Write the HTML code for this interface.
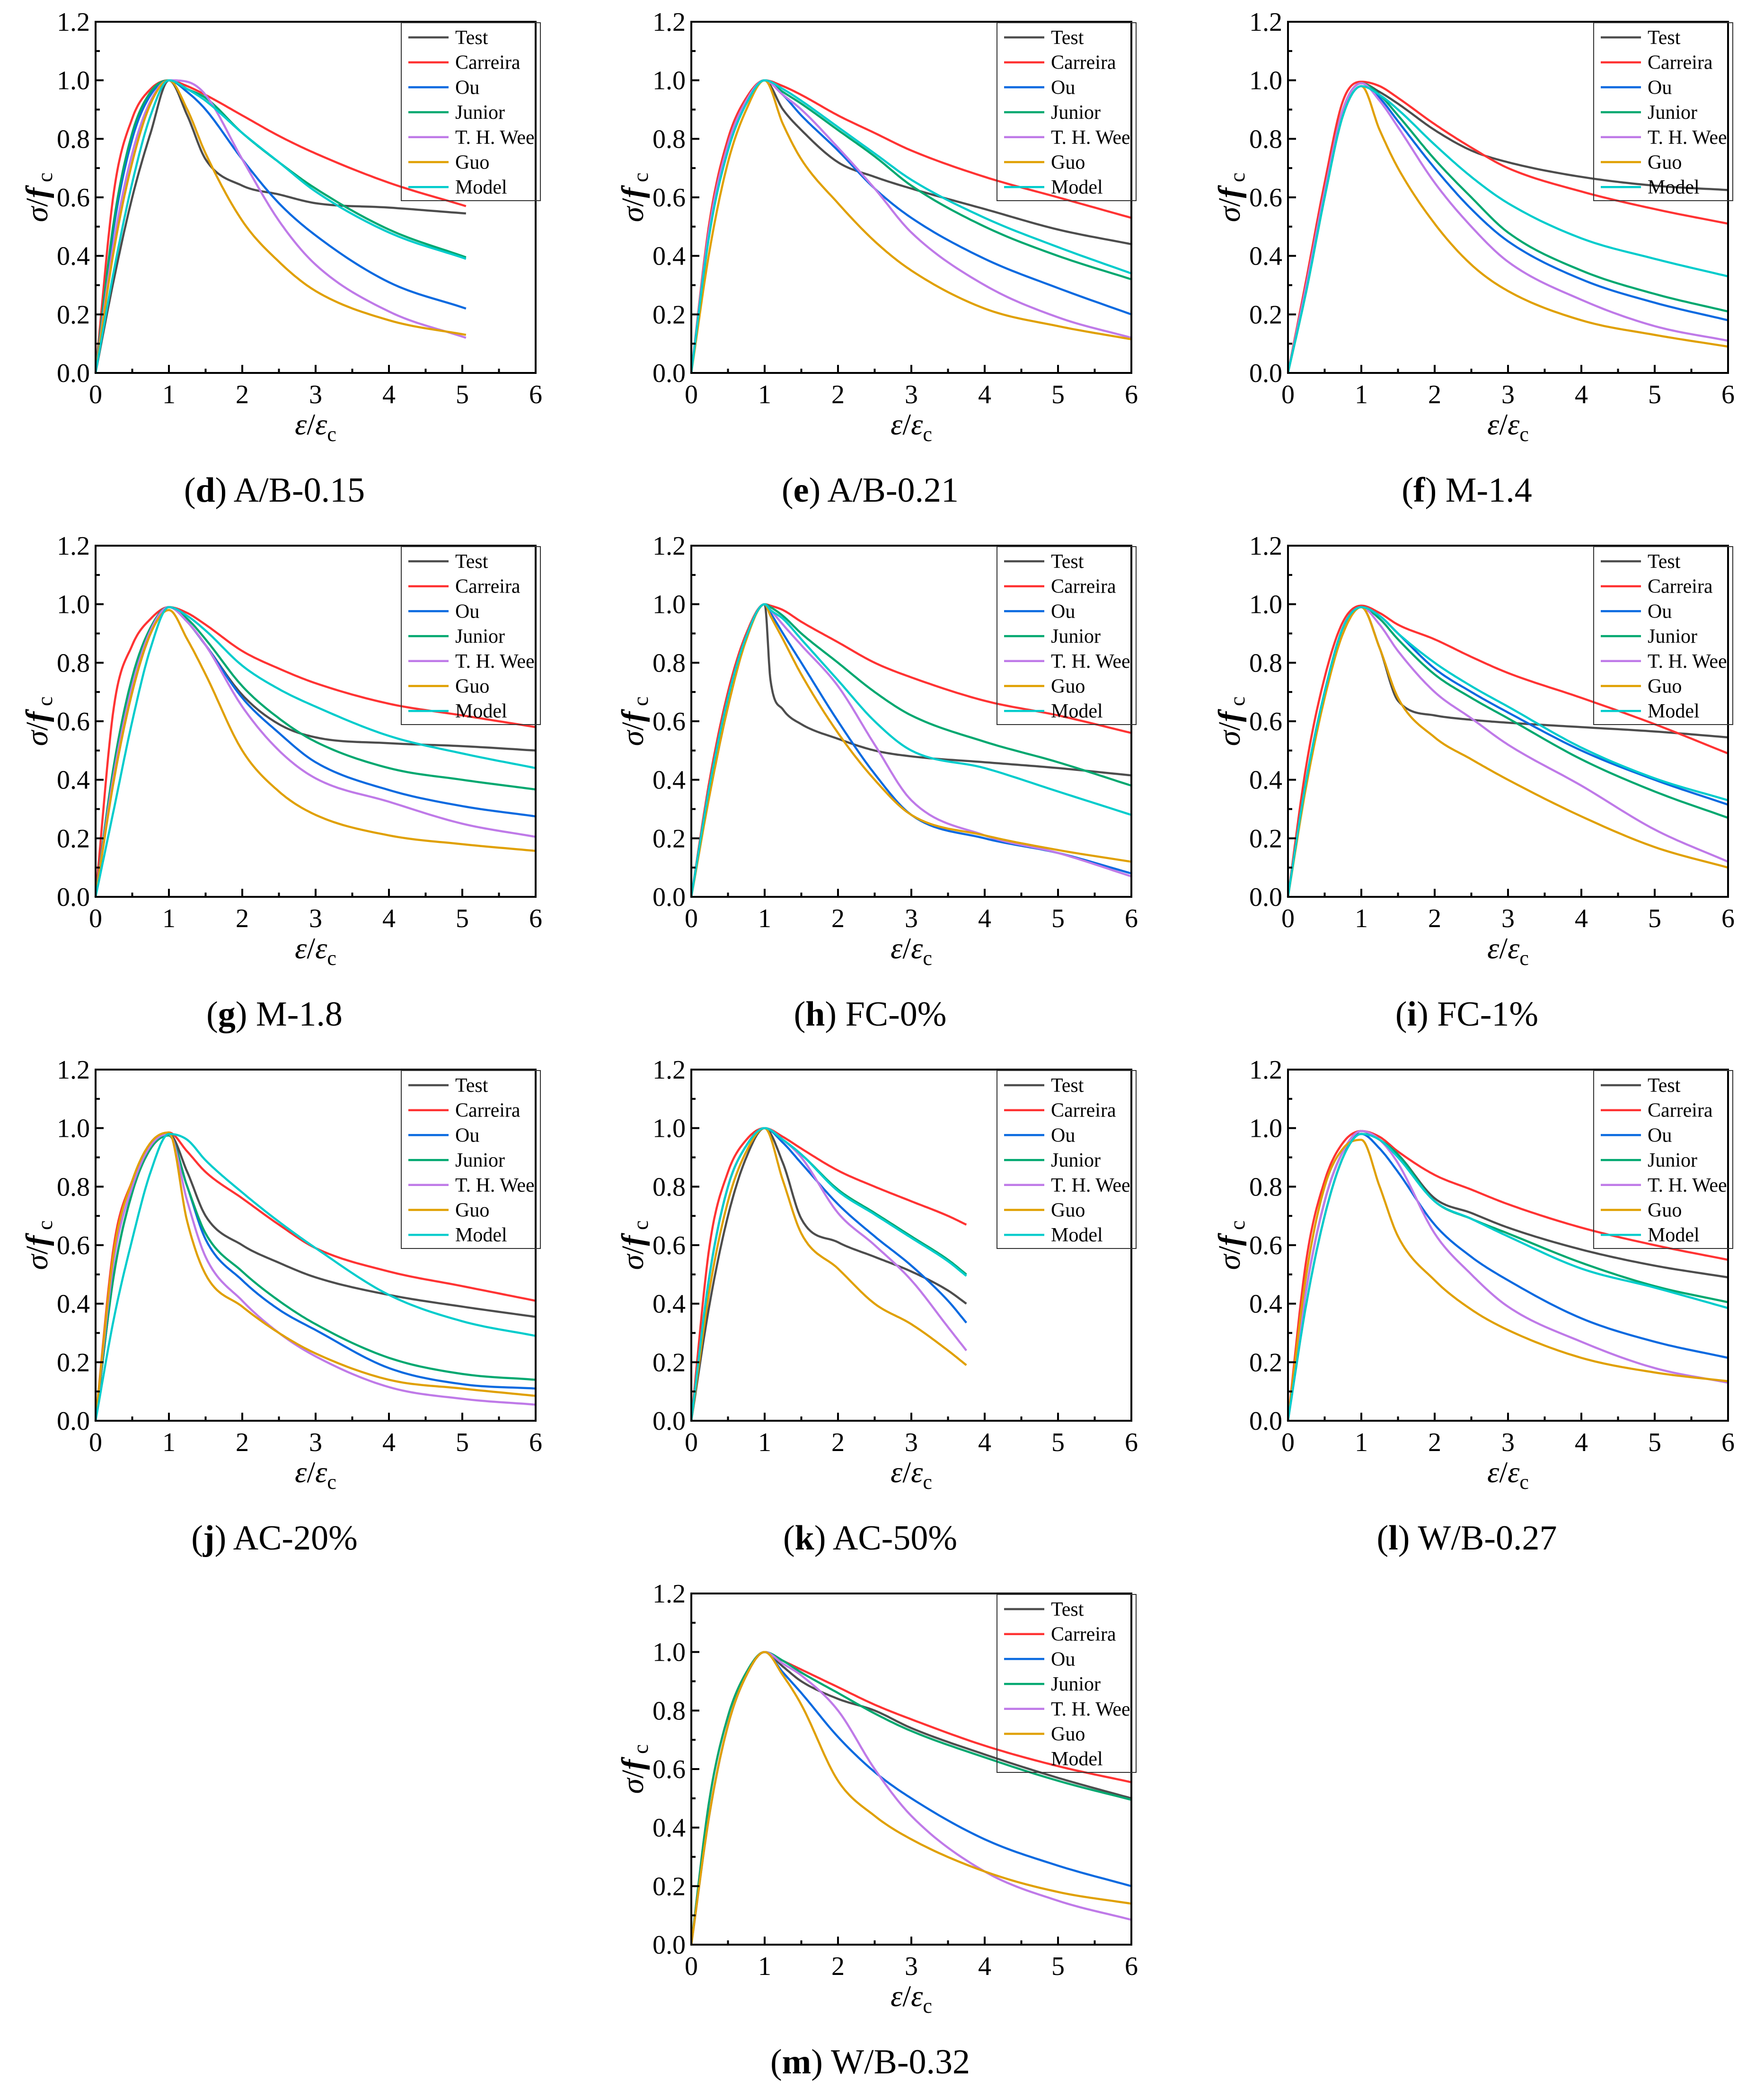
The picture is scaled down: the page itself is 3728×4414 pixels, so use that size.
<!DOCTYPE html>
<html>
<head>
<meta charset="utf-8">
<style>
html,body{margin:0;padding:0;background:#fff;}
svg{display:block;}
svg text{font-family:"Liberation Serif","Times New Roman",serif;}
</style>
</head>
<body>
<svg id="fig" width="3728" height="4414" viewBox="0 0 3728 4414" xmlns="http://www.w3.org/2000/svg" font-family="Liberation Serif, serif">
<rect x="0" y="0" width="3728" height="4414" fill="#fff"/>
</svg>
<script>
const seriesNames = ["Test","Carreira","Ou","Junior","T. H. Wee","Guo","Model"];
const seriesColors = ["#4d4d4d","#ff3333","#0a6ae0","#00a870","#bf7ae8","#e0a000","#00cccc"];
const xTicks = [0,1,2,3,4,5,6];
const yTicks = ["0.0","0.2","0.4","0.6","0.8","1.0","1.2"];
const X13 = [0,.25,.5,.75,1,1.25,1.5,2,2.5,3,4,5,6];

const d_x = [0,.25,.5,.75,1,1.25,1.5,2,2.5,3,4,5.05];
const d_test = [0,.32,.6,.82,1,.88,.73,.64,.61,.58,.565,.545];
const d_carr = [0,.62,.87,.97,1,.98,.95,.88,.81,.75,.65,.57];
const d_ou = [0,.5,.8,.95,1,.96,.9,.73,.58,.47,.31,.22];
const d_jun = [0,.52,.82,.96,1,.97,.94,.82,.72,.63,.49,.395];
const d_wee = [0,.45,.75,.93,1,.995,.95,.73,.52,.37,.21,.12];
const d_guo = [0,.42,.72,.92,1,.9,.75,.52,.38,.28,.18,.13];
const d_mod = [0,.35,.65,.88,1,.97,.93,.82,.72,.62,.48,.39];

const e_test = [0,.48,.77,.93,1,.9,.83,.72,.67,.63,.56,.49,.44];
const e_carr = [0,.52,.8,.94,1,.98,.95,.88,.82,.76,.67,.6,.53];
const e_ou = [0,.5,.78,.93,1,.95,.88,.76,.63,.53,.39,.29,.2];
const e_jun = [0,.5,.78,.93,1,.96,.92,.83,.74,.64,.5,.4,.32];
const e_wee = [0,.5,.78,.93,1,.95,.9,.77,.63,.48,.3,.19,.12];
const e_guo = [0,.42,.72,.9,1,.85,.73,.58,.45,.35,.22,.16,.115];
const e_mod = [0,.48,.76,.92,1,.97,.93,.84,.75,.66,.53,.43,.34];

const f_test = [0,.3,.62,.9,.99,.96,.92,.83,.76,.72,.67,.64,.625];
const f_carr = [0,.32,.65,.93,.995,.98,.94,.85,.77,.7,.62,.56,.51];
const f_ou = [0,.3,.62,.9,.99,.94,.86,.7,.56,.45,.32,.24,.18];
const f_jun = [0,.3,.62,.9,.99,.95,.88,.73,.6,.48,.35,.27,.21];
const f_wee = [0,.3,.62,.9,.99,.93,.84,.65,.5,.38,.25,.16,.11];
const f_guo = [0,.28,.6,.88,.98,.83,.7,.51,.37,.28,.18,.13,.09];
const f_mod = [0,.28,.6,.88,.98,.95,.9,.78,.67,.58,.46,.39,.33];

const g_test = [0,.4,.7,.9,.99,.94,.86,.69,.59,.545,.525,.515,.5];
const g_carr = [0,.65,.86,.95,.99,.97,.93,.84,.78,.73,.66,.62,.58];
const g_ou = [0,.45,.75,.92,.99,.94,.86,.68,.56,.46,.365,.31,.275];
const g_jun = [0,.45,.75,.92,.99,.95,.88,.72,.61,.53,.44,.4,.367];
const g_wee = [0,.42,.72,.91,.99,.94,.86,.65,.5,.405,.325,.25,.205];
const g_guo = [0,.4,.7,.9,.98,.88,.76,.5,.36,.28,.21,.18,.157];
const g_mod = [0,.3,.6,.85,.99,.96,.91,.79,.71,.65,.55,.49,.44];

const h_x = [0,.25,.5,.75,1,1.08,1.25,1.5,2,2.5,3,4,5,6];
const h_test = [0,.35,.65,.88,1,.74,.64,.59,.54,.5,.48,.46,.44,.415];
const h_carr = [0,.4,.7,.9,1,.995,.98,.94,.87,.8,.75,.67,.62,.56];
const h_ou = [0,.38,.68,.89,1,.97,.9,.8,.6,.42,.28,.2,.15,.08];
const h_jun = [0,.38,.68,.89,1,.99,.96,.9,.8,.7,.62,.53,.46,.38];
const h_wee = [0,.38,.68,.89,1,.98,.93,.86,.72,.52,.33,.21,.15,.07];
const h_guo = [0,.35,.65,.88,1,.96,.88,.76,.56,.4,.28,.21,.16,.12];
const h_mod = [0,.38,.68,.89,1,.98,.95,.88,.74,.6,.5,.44,.36,.28];

const i_test = [0,.4,.7,.92,.99,.85,.67,.62,.605,.595,.58,.565,.545];
const i_carr = [0,.45,.75,.94,.995,.97,.93,.88,.82,.765,.68,.59,.49];
const i_ou = [0,.4,.7,.92,.99,.96,.9,.78,.7,.63,.5,.4,.315];
const i_jun = [0,.4,.7,.92,.99,.95,.88,.76,.68,.61,.47,.36,.27];
const i_wee = [0,.4,.7,.92,.99,.93,.84,.7,.61,.52,.38,.23,.12];
const i_guo = [0,.38,.68,.9,.99,.85,.68,.545,.47,.4,.275,.17,.1];
const i_mod = [0,.4,.7,.92,.99,.96,.9,.8,.72,.65,.51,.405,.33];

const j_test = [0,.5,.78,.93,.98,.85,.7,.6,.54,.49,.43,.39,.355];
const j_carr = [0,.6,.82,.94,.985,.92,.85,.76,.67,.59,.51,.46,.41];
const j_ou = [0,.5,.78,.93,.975,.8,.62,.48,.38,.31,.18,.125,.11];
const j_jun = [0,.5,.78,.93,.975,.8,.64,.51,.41,.33,.215,.16,.14];
const j_wee = [0,.55,.8,.94,.98,.75,.56,.41,.3,.22,.115,.075,.055];
const j_guo = [0,.58,.82,.95,.985,.68,.5,.39,.3,.23,.14,.11,.085];
const j_mod = [0,.35,.62,.85,.98,.96,.89,.78,.68,.59,.43,.34,.29];

const k_x = [0,.25,.5,.75,1,1.25,1.5,2,2.5,3,3.5,3.75];
const k_test = [0,.4,.7,.9,1,.88,.69,.61,.56,.51,.445,.4];
const k_carr = [0,.6,.85,.96,1,.97,.93,.855,.8,.75,.7,.67];
const k_ou = [0,.5,.8,.94,1,.95,.88,.74,.63,.53,.41,.335];
const k_jun = [0,.5,.8,.94,1,.96,.91,.79,.71,.63,.55,.5];
const k_wee = [0,.5,.8,.94,1,.96,.9,.71,.6,.48,.32,.24];
const k_guo = [0,.45,.75,.92,1,.82,.64,.52,.4,.33,.24,.19];
const k_mod = [0,.5,.8,.94,1,.96,.91,.785,.705,.625,.545,.495];

const l_test = [0,.4,.7,.9,.99,.96,.91,.76,.71,.66,.585,.53,.49];
const l_carr = [0,.55,.82,.95,.99,.97,.92,.84,.79,.74,.66,.6,.55];
const l_ou = [0,.45,.75,.92,.98,.93,.85,.67,.56,.48,.35,.27,.215];
const l_jun = [0,.45,.75,.92,.99,.96,.91,.75,.69,.64,.54,.46,.405];
const l_wee = [0,.45,.75,.92,.99,.96,.88,.64,.5,.39,.27,.18,.13];
const l_guo = [0,.5,.8,.93,.96,.8,.63,.48,.38,.31,.215,.165,.135];
const l_mod = [0,.4,.7,.9,.98,.96,.9,.75,.69,.63,.52,.455,.385];

const m_test = [0,.45,.75,.92,1,.95,.9,.84,.8,.74,.65,.57,.5];
const m_carr = [0,.5,.78,.93,1,.97,.94,.88,.82,.77,.68,.61,.555];
const m_ou = [0,.45,.75,.92,1,.93,.86,.71,.59,.5,.36,.27,.2];
const m_jun = [0,.5,.78,.93,1,.97,.93,.86,.79,.73,.64,.56,.495];
const m_wee = [0,.45,.75,.92,1,.96,.92,.8,.6,.44,.25,.15,.085];
const m_guo = [0,.45,.75,.92,1,.92,.82,.56,.44,.36,.25,.18,.14];
const m_mod = [];

const panels = [
  {id:"d",label:"A/B-0.15",col:0,row:0,xs:d_x,ys:[d_test,d_carr,d_ou,d_jun,d_wee,d_guo,d_mod]},
  {id:"e",label:"A/B-0.21",col:1,row:0,xs:X13,ys:[e_test,e_carr,e_ou,e_jun,e_wee,e_guo,e_mod]},
  {id:"f",label:"M-1.4",col:2,row:0,xs:X13,ys:[f_test,f_carr,f_ou,f_jun,f_wee,f_guo,f_mod]},
  {id:"g",label:"M-1.8",col:0,row:1,xs:X13,ys:[g_test,g_carr,g_ou,g_jun,g_wee,g_guo,g_mod]},
  {id:"h",label:"FC-0%",col:1,row:1,xs:h_x,ys:[h_test,h_carr,h_ou,h_jun,h_wee,h_guo,h_mod]},
  {id:"i",label:"FC-1%",col:2,row:1,xs:X13,ys:[i_test,i_carr,i_ou,i_jun,i_wee,i_guo,i_mod]},
  {id:"j",label:"AC-20%",col:0,row:2,xs:X13,ys:[j_test,j_carr,j_ou,j_jun,j_wee,j_guo,j_mod]},
  {id:"k",label:"AC-50%",col:1,row:2,xs:k_x,ys:[k_test,k_carr,k_ou,k_jun,k_wee,k_guo,k_mod]},
  {id:"l",label:"W/B-0.27",col:2,row:2,xs:X13,ys:[l_test,l_carr,l_ou,l_jun,l_wee,l_guo,l_mod]},
  {id:"m",label:"W/B-0.32",col:1,row:3,xs:X13,ys:[m_test,m_carr,m_ou,m_jun,m_wee,m_guo,m_mod]}
];

const NS = "http://www.w3.org/2000/svg";
const svg = document.getElementById("fig");
const colX = [202,1461,2722];
const rowY = [788,1895,3002,4109];
const PW = 930, PH = 742;

function mk(tag, attrs, parent){
  const el = document.createElementNS(NS, tag);
  for (const k in attrs) el.setAttribute(k, attrs[k]);
  parent.appendChild(el);
  return el;
}
function monotone(xs, ys){
  const n = xs.length, dx=[], s=[], m=[];
  for(let i=0;i<n-1;i++){dx.push(xs[i+1]-xs[i]); s.push((ys[i+1]-ys[i])/dx[i]);}
  m[0]=s[0]; m[n-1]=s[n-2];
  for(let i=1;i<n-1;i++){ m[i] = (s[i-1]*s[i]<=0)?0:(s[i-1]+s[i])/2; }
  for(let i=0;i<n-1;i++){
    if(s[i]===0){m[i]=0;m[i+1]=0;continue;}
    const a=m[i]/s[i], b=m[i+1]/s[i], h=a*a+b*b;
    if(h>9){const t=3/Math.sqrt(h); m[i]=t*a*s[i]; m[i+1]=t*b*s[i];}
  }
  const pts=[];
  for(let i=0;i<n-1;i++){
    const N=16;
    for(let k=0;k<N;k++){
      const t=k/N, h=dx[i];
      const h00=2*t*t*t-3*t*t+1, h10=t*t*t-2*t*t+t, h01=-2*t*t*t+3*t*t, h11=t*t*t-t*t;
      pts.push([xs[i]+t*h, h00*ys[i]+h10*h*m[i]+h01*ys[i+1]+h11*h*m[i+1]]);
    }
  }
  pts.push([xs[n-1],ys[n-1]]);
  return pts;
}

panels.forEach(p=>{
  const x0 = colX[p.col], y0 = rowY[p.row];
  const sx = v => x0 + v/6*PW;
  const sy = v => y0 - v/1.2*PH;
  const g = mk("g",{},svg);
  
  

  const sg = mk("g",{},g);
  
  
  p.ys.forEach((ys,si)=>{
    if(!ys.length) return;
    const pts = monotone(p.xs, ys);
    const d = pts.map((q,i)=>(i?"L":"M")+sx(q[0]).toFixed(1)+","+sy(q[1]).toFixed(1)).join("");
    const path = mk("path",{d:d,fill:"none",stroke:seriesColors[si],"stroke-width":4.5,"stroke-linejoin":"round"},sg);
    
    
  });

  const fr = mk("rect",{x:x0,y:y0-PH,width:PW,height:PH,fill:"none",stroke:"#000","stroke-width":4},g);
  
  

  for(let v=0; v<=6.001; v+=0.5){
    const major = Math.abs(v-Math.round(v))<1e-6;
    const t = mk("line",{x1:sx(v),x2:sx(v),y1:y0,y2:y0-(major?17:9),stroke:"#000","stroke-width":4},g);
    
    
  }
  xTicks.forEach(v=>{
    const t = mk("text",{x:sx(v),y:y0+64,"font-size":56,"text-anchor":"middle","font-family":"Liberation Serif, serif"},g);
    t.textContent = v;
    
    
  });
  for(let k=0;k<=12;k++){
    const v=k/10, major = k%2===0;
    const t = mk("line",{x1:x0,x2:x0+(major?17:9),y1:sy(v),y2:sy(v),stroke:"#000","stroke-width":4},g);
    
    
  }
  yTicks.forEach(s=>{
    const t = mk("text",{x:x0-12,y:sy(parseFloat(s))+19,"font-size":56,"text-anchor":"end","font-family":"Liberation Serif, serif"},g);
    t.textContent = s;
    
    
  });

  const yt = mk("text",{x:0,y:0,"font-size":66,"text-anchor":"middle","font-family":"Liberation Serif, serif",transform:`translate(${x0-102},${y0-PH/2}) rotate(-90)`},g);
  
  
  yt.innerHTML = '<tspan font-style="italic">σ</tspan>/<tspan font-style="italic" font-weight="bold">f</tspan><tspan font-size="46" dy="10"> c</tspan>';

  const xt = mk("text",{x:x0+PW/2,y:y0+130,"font-size":64,"text-anchor":"middle","font-family":"Liberation Serif, serif"},g);
  
  
  xt.innerHTML = '<tspan font-style="italic">ε</tspan>/<tspan font-style="italic">ε</tspan><tspan font-size="44" dy="14">c</tspan>';

  const lg = mk("g",{},g);
  
  
  const lb = mk("rect",{x:x0+646,y:y0-740,width:294,height:376,fill:"none",stroke:"#333","stroke-width":2},lg);
  
  
  seriesNames.forEach((nm,si)=>{
    const yy = y0-709+si*52.7;
    const e = mk("g",{},lg);
    
    
    if(p.id!=="m" || si<6){
      mk("line",{x1:x0+661,x2:x0+746,y1:yy,y2:yy,stroke:seriesColors[si],"stroke-width":4.5},e);
    }
    const t = mk("text",{x:x0+760,y:yy+14,"font-size":42,"font-family":"Liberation Serif, serif"},e);
    t.textContent = nm;
  });

  const cap = mk("text",{x:x0+378,y:y0+272,"font-size":74,"text-anchor":"middle","font-family":"Liberation Serif, serif"},g);
  
  
  cap.innerHTML = '(<tspan font-weight="bold">'+p.id+'</tspan>) '+p.label;
});
</script>
</body>
</html>
